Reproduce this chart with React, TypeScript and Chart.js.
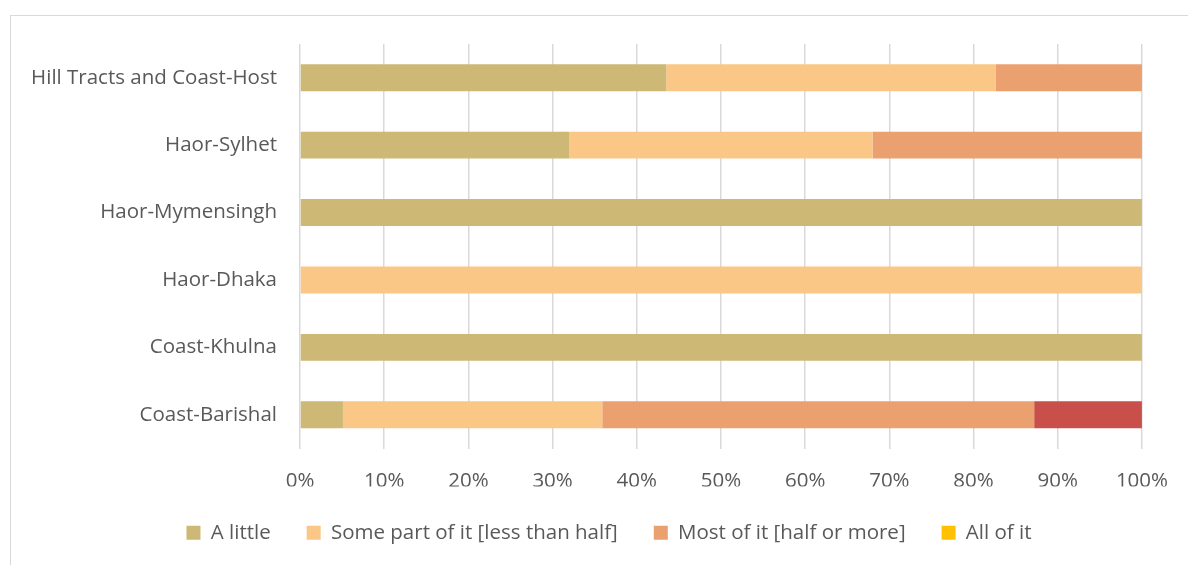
import React, { useEffect, useRef } from "react";
import { Chart, registerables } from "chart.js";

Chart.register(...registerables);

const regions = [
  "Hill Tracts and Coast-Host",
  "Haor-Sylhet",
  "Haor-Mymensingh",
  "Haor-Dhaka",
  "Coast-Khulna",
  "Coast-Barishal",
];

// Share of respondents (%) per answer, in region order
const aLittle = [43.5, 32, 100, 0, 100, 5.1];
const somePart = [39.1, 36, 0, 100, 0, 30.8];
const mostOfIt = [17.4, 32, 0, 0, 0, 51.3];
const allOfIt = [0, 0, 0, 0, 0, 0];
const unlabeled = [0, 0, 0, 0, 0, 12.8];

const xTicks = [0, 10, 20, 30, 40, 50, 60, 70, 80, 90, 100];

const FONT = "'Open Sans', sans-serif";
const TEXT = "#595959";
const GRID = "#d9d9d9";

// White background plus the light outer frame of the chart
const framePlugin = {
  id: "frame",
  beforeDraw(chart: Chart) {
    const ctx = chart.ctx;
    ctx.save();
    ctx.fillStyle = "#ffffff";
    ctx.fillRect(0, 0, chart.width, chart.height);
    ctx.strokeStyle = GRID;
    ctx.lineWidth = 1;
    ctx.strokeRect(10.5, 15.5, chart.width + 20, chart.height + 20);
    ctx.restore();
  },
};

// Nudge the legend row to the right so it sits under the plot
const legendShift = {
  id: "legendShift",
  afterLayout(chart: any) {
    const lg = chart.legend;
    if (lg) {
      lg.left += 36;
      lg.right += 36;
    }
  },
};

export default function App() {
  const ref = useRef<HTMLCanvasElement | null>(null);

  useEffect(() => {
    if (!ref.current) return;
    const chart = new Chart(ref.current, {
      type: "bar",
      data: {
        labels: regions,
        datasets: [
          { label: "A little", data: aLittle, backgroundColor: "#CEB876" },
          { label: "Some part of it [less than half]", data: somePart, backgroundColor: "#FAC786" },
          { label: "Most of it [half or more]", data: mostOfIt, backgroundColor: "#EBA070" },
          { label: "All of it", data: allOfIt, backgroundColor: "#FFC000" },
          { label: "Other", data: unlabeled, backgroundColor: "#C94F4B" },
        ],
      },
      options: {
        indexAxis: "y",
        responsive: false,
        animation: false,
        maintainAspectRatio: false,
        layout: { padding: { left: 0, right: 42, top: 44, bottom: 12 } },
        datasets: {
          bar: { barPercentage: 0.4, categoryPercentage: 1, borderWidth: 0 },
        },
        scales: {
          x: {
            stacked: true,
            min: 0,
            max: 100,
            afterBuildTicks(scale: any) {
              scale.ticks = xTicks.map((v) => ({ value: v }));
            },
            afterFit(scale: any) {
              scale.height = 38;
            },
            ticks: {
              callback: (v: any) => `${v}%`,
              color: TEXT,
              font: { family: FONT, size: 20.5 },
              padding: 20,
              maxRotation: 0,
            },
            grid: { color: GRID, lineWidth: 1.5, drawTicks: false },
            border: { display: false },
          },
          y: {
            stacked: true,
            afterFit(scale: any) {
              scale.width = 300;
            },
            ticks: {
              color: TEXT,
              font: { family: FONT, size: 20.5 },
              padding: 23,
            },
            grid: { display: false, drawTicks: false },
            border: { display: false },
          },
        },
        plugins: {
          tooltip: { enabled: false },
          legend: {
            position: "bottom",
            labels: {
              color: TEXT,
              font: { family: FONT, size: 20.5 },
              boxWidth: 14,
              boxHeight: 14,
              padding: 36,
              filter: (item: any) => item.text !== "Other",
            },
          },
        },
      },
      plugins: [framePlugin, legendShift],
    });
    return () => chart.destroy();
  }, []);

  return (
    <div style={{ position: "fixed", left: 0, top: 0, width: 1188, height: 565 }}>
      <canvas ref={ref} width={1188} height={565} style={{ display: "block" }} />
    </div>
  );
}
